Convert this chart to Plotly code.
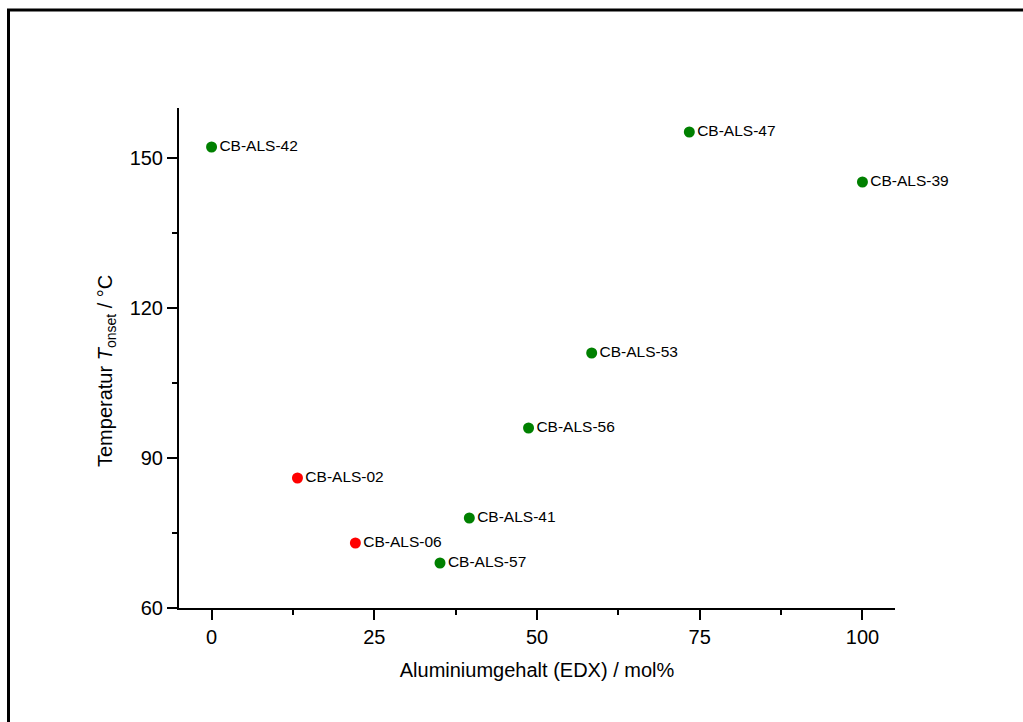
import plotly.graph_objects as go

labels = ["CB-ALS-42", "CB-ALS-47", "CB-ALS-39", "CB-ALS-53", "CB-ALS-56",
          "CB-ALS-02", "CB-ALS-41", "CB-ALS-06", "CB-ALS-57"]
al_content = [0.0, 73.4, 100.0, 58.4, 48.7, 13.2, 39.6, 22.1, 35.1]
t_onset = [152.2, 155.2, 145.2, 111.0, 96.0, 86.0, 78.0, 73.0, 69.0]
colors = ["#008000", "#008000", "#008000", "#008000", "#008000",
          "#ff0000", "#008000", "#ff0000", "#008000"]

fig = go.Figure()
fig.add_trace(go.Scatter(
    x=al_content, y=t_onset, mode="markers+text",
    text=labels, textposition="middle right",
    textfont=dict(family="Liberation Sans, Arial", size=15.5, color="black"),
    marker=dict(size=11, color=colors, line=dict(width=0)),
    cliponaxis=False, showlegend=False,
))

W, H = 1023, 722
L, R, T, B = 179, 128, 108, 114
pw, ph = W - L - R, H - T - B

def px(x):
    return (x - L) / pw

def py(y):
    return (H - B - y) / ph

fig.add_shape(type="rect", xref="paper", yref="paper",
              x0=px(8.5), x1=px(1040), y0=py(10), y1=py(740),
              line=dict(color="black", width=3), layer="above")

fig.add_annotation(text="Temperatur <i>T</i><sub>onset</sub> / °C",
                   xref="paper", yref="paper", x=px(106), y=py(371),
                   xanchor="center", yanchor="middle", textangle=-90,
                   showarrow=False,
                   font=dict(family="Liberation Sans, Arial", size=20, color="black"))

axis_common = dict(
    showline=True, linecolor="black", linewidth=2, mirror=False,
    ticks="outside", ticklen=10, tickwidth=2, tickcolor="black",
    showgrid=False, zeroline=False,
    tickfont=dict(family="Liberation Sans, Arial", size=20, color="black"),
)

fig.update_layout(
    width=W, height=H,
    margin=dict(l=L, r=R, t=T, b=B),
    paper_bgcolor="white", plot_bgcolor="white",
    font=dict(family="Liberation Sans, Arial", color="black"),
    xaxis=dict(range=[-5, 105], tickvals=[0, 25, 50, 75, 100],
               minor=dict(tickvals=[12.5, 37.5, 62.5, 87.5], ticks="outside",
                          ticklen=5, tickwidth=2, tickcolor="black"),
               title=dict(text="Aluminiumgehalt (EDX) / mol%",
                          font=dict(size=20), standoff=16),
               **axis_common),
    yaxis=dict(range=[60, 160], tickvals=[60, 90, 120, 150],
               minor=dict(tickvals=[75, 105, 135], ticks="outside",
                          ticklen=5, tickwidth=2, tickcolor="black"),
               **axis_common),
)

fig.write_html("out.html")
